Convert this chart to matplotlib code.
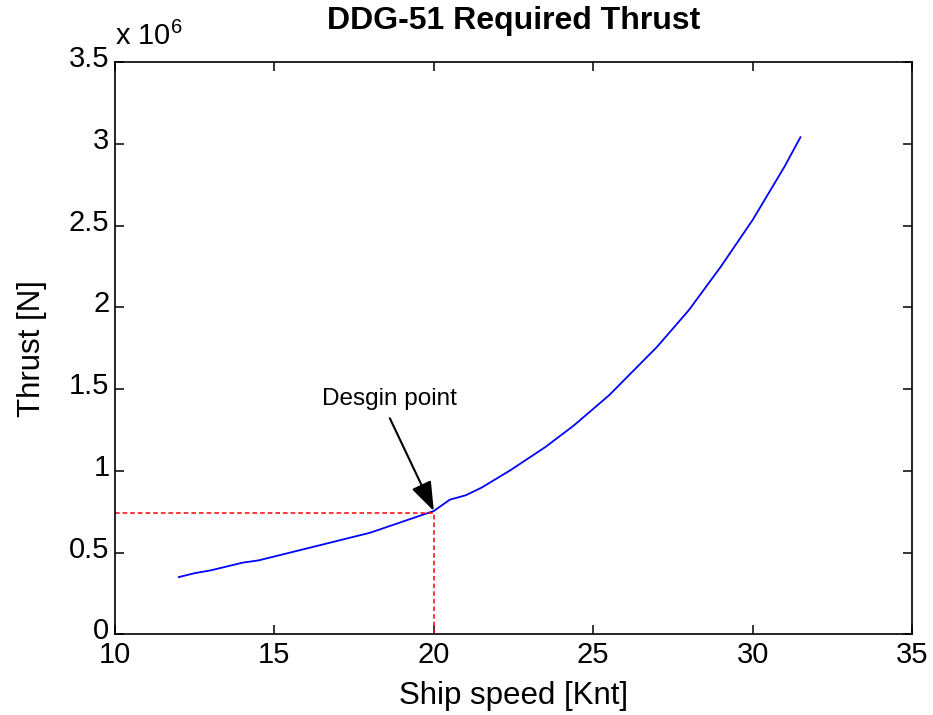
import numpy as np
import matplotlib
matplotlib.use("Agg")
import matplotlib.pyplot as plt
import matplotlib.transforms as mtrans
from matplotlib.ticker import FuncFormatter

plt.rcParams['font.family'] = ['Liberation Sans', 'DejaVu Sans']
plt.rcParams['mathtext.fontset'] = 'custom'
plt.rcParams['mathtext.rm'] = 'Liberation Sans'

# Velocidad del buque [nudos] y empuje requerido [N]
velocidad = [12, 12.5, 13, 14, 14.5, 15, 18, 20, 20.5, 21, 21.5, 22.4,
             23.5, 24.4, 25.5, 27, 28, 29, 30, 31, 31.5]
empuje = [0.351e6, 0.375e6, 0.392e6, 0.439e6, 0.453e6, 0.477e6, 0.622e6,
          0.755e6, 0.824e6, 0.851e6, 0.898e6, 1.004e6, 1.146e6, 1.279e6,
          1.463e6, 1.758e6, 1.983e6, 2.248e6, 2.534e6, 2.860e6, 3.040e6]

# Punto de diseño
vDiseno = 20
tDiseno = 0.745e6

fig = plt.figure(figsize=(9.33, 7.15), dpi=100)
ax = fig.add_axes([0.1233, 0.1126, 0.8542, 0.8007])

ax.plot(velocidad, empuje, color='#0000ff', lw=1.3)
ax.plot([10, vDiseno], [tDiseno, tDiseno], 'r--', lw=1.1, dashes=(3, 2))
ax.plot([vDiseno, vDiseno], [0, tDiseno], 'r--', lw=1.1, dashes=(3, 2))

# Texto y flecha del punto de diseño
ax.text(18.6, 1.44e6, 'Desgin point', ha='center', va='center', fontsize=17.5)
ax.annotate('', xy=(vDiseno, 0.755e6), xytext=(18.62, 1.322e6),
            arrowprops=dict(arrowstyle='-|>,head_length=0.5,head_width=0.18',
                            color='k', lw=1.5, mutation_scale=36,
                            shrinkA=0, shrinkB=0))

ax.set_xlim(10, 35)
ax.set_ylim(0, 3.5e6)
ax.set_xticks([10, 15, 20, 25, 30, 35])
ax.set_yticks(np.arange(0, 3.51e6, 0.5e6))
ax.yaxis.set_major_formatter(FuncFormatter(lambda v, p: '%g' % (v / 1e6)))
ax.tick_params(direction='in', length=6.5, width=1.1, top=True, right=True,
               labelsize=21)
ax.tick_params(axis='x', pad=5)
ax.tick_params(axis='y', pad=4)
for s in ax.spines.values():
    s.set_linewidth(1.2)

# Etiquetas del eje y un poco más arriba, como en MATLAB
desplazamiento = mtrans.ScaledTranslation(0, 6 / 100, fig.dpi_scale_trans)
for etiqueta in ax.get_yticklabels():
    etiqueta.set_transform(etiqueta.get_transform() + desplazamiento)

ax.set_xlabel('Ship speed [Knt]', fontsize=22.5, labelpad=8)
ax.set_ylabel('Thrust [N]', fontsize=22.5, labelpad=16)
ax.set_title('DDG-51 Required Thrust', fontsize=23, fontweight='bold', pad=24)
ax.text(0.0, 1.02, r'x 10$^{6}$', transform=ax.transAxes, fontsize=21,
        ha='left', va='bottom')

fig.savefig('out.png', dpi=100)
